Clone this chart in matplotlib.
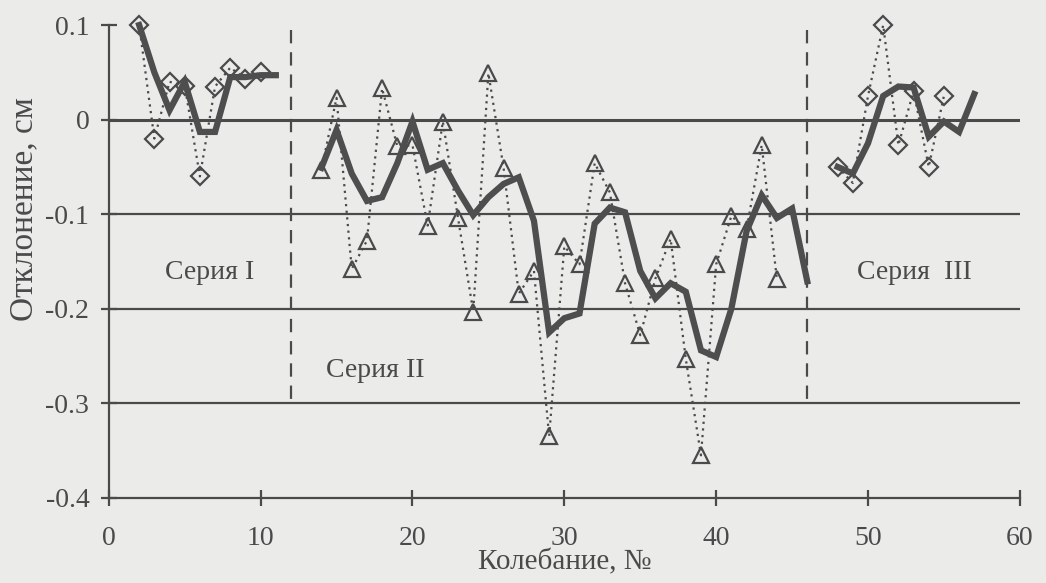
import matplotlib
matplotlib.use("Agg")
import matplotlib.pyplot as plt

# Series I (diamonds + smoothed line)
s1_x = [2, 3, 4, 5, 6, 7, 8, 9, 10]
s1_y = [0.10, -0.02, 0.04, 0.036, -0.06, 0.035, 0.055, 0.043, 0.05]
s1_lx = [2, 3, 4, 5, 6, 7, 8, 9, 10, 11]
s1_ly = [0.10, 0.05, 0.01, 0.04, -0.013, -0.013, 0.045, 0.045, 0.047, 0.047]

# Series II (triangles + smoothed line)
s2_x = list(range(14, 45))
s2_y = [-0.053, 0.023, -0.158, -0.128, 0.033, -0.028, -0.027, -0.112, -0.002,
        -0.104, -0.203, 0.049, -0.051, -0.184, -0.160, -0.335, -0.134, -0.153,
        -0.046, -0.077, -0.173, -0.228, -0.168, -0.126, -0.253, -0.355, -0.153,
        -0.102, -0.116, -0.027, -0.169]
s2_lx = list(range(14, 47))
s2_ly = [-0.051, -0.011, -0.057, -0.086, -0.082, -0.046, -0.002, -0.053, -0.046,
         -0.075, -0.101, -0.082, -0.068, -0.061, -0.107, -0.225, -0.21, -0.205,
         -0.11, -0.093, -0.098, -0.16, -0.189, -0.173, -0.182, -0.244, -0.251,
         -0.20, -0.118, -0.08, -0.104, -0.094, -0.171]

# Series III (diamonds + smoothed line)
s3_x = [48, 49, 50, 51, 52, 53, 54, 55]
s3_y = [-0.05, -0.067, 0.025, 0.10, -0.027, 0.03, -0.05, 0.025]
s3_lx = [48, 49, 50, 51, 52, 53, 54, 55, 56, 57]
s3_ly = [-0.05, -0.057, -0.025, 0.025, 0.035, 0.034, -0.018, -0.002, -0.013, 0.027]

dividers = [12, 46]
y_ticks = [0.1, 0, -0.1, -0.2, -0.3, -0.4]
y_labels = ["0.1", "0", "-0.1", "-0.2", "-0.3", "-0.4"]
x_ticks = [0, 10, 20, 30, 40, 50, 60]
labels = [("Серия I", 3.7, -0.162), ("Серия II", 14.3, -0.265), ("Серия  III", 49.3, -0.162)]

plt.rcParams['font.family'] = ['Liberation Serif', 'DejaVu Serif']

bg = '#ebebea'
ink = '#4a4a4a'

fig = plt.figure(figsize=(10.46, 5.83), dpi=100, facecolor=bg)
ax = fig.add_axes([0.104, 0.146, 0.871, 0.811], facecolor=bg)

for yv in [0, -0.1, -0.2, -0.3]:
    ax.axhline(yv, color=ink, lw=2.2 if yv == 0 else 1.6, zorder=1)
for dv in dividers:
    ax.plot([dv, dv], [0.095, -0.3], color=ink, lw=1.6, dashes=(6, 4), zorder=1)

mk = dict(markerfacecolor='none', markeredgecolor=ink, markeredgewidth=1.6, markersize=12,
          color=ink, lw=1.6, ls=(0, (1, 2)), zorder=3, clip_on=False)
ax.plot(s1_x, s1_y, marker='D', **{**mk, 'markersize': 9.5})
ax.plot(s2_x, s2_y, marker='^', **mk)
ax.plot(s3_x, s3_y, marker='D', **{**mk, 'markersize': 9.5})

for lx, ly in [(s1_lx, s1_ly), (s2_lx, s2_ly), (s3_lx, s3_ly)]:
    ax.plot(lx, ly, color='#4e4e4e', lw=4.5, solid_joinstyle='miter', zorder=4, clip_on=False)

for txt, tx, ty in labels:
    ax.text(tx, ty, txt, fontsize=20, color=ink, ha='left', va='center', zorder=5)

ax.set_xlim(0, 60)
ax.set_ylim(-0.4, 0.1)
ax.set_yticks(y_ticks)
ax.set_yticklabels(y_labels)
ax.set_xticks(x_ticks)
for s in ['top', 'right']:
    ax.spines[s].set_visible(False)
for s in ['left', 'bottom']:
    ax.spines[s].set_color(ink)
    ax.spines[s].set_linewidth(1.6)
ax.tick_params(direction='inout', length=12, width=1.6, color=ink, labelsize=20,
               labelcolor=ink)
ax.tick_params(axis='x', pad=14)
ax.tick_params(axis='y', pad=8)
ax.set_xlabel("Колебание, №", fontsize=21, color=ink, labelpad=-1)
ax.set_ylabel("Отклонение, см", fontsize=24, color=ink, labelpad=0)
ax.yaxis.set_label_coords(-0.076, 0.61)

fig.savefig("out.png", dpi=100, facecolor=bg)
